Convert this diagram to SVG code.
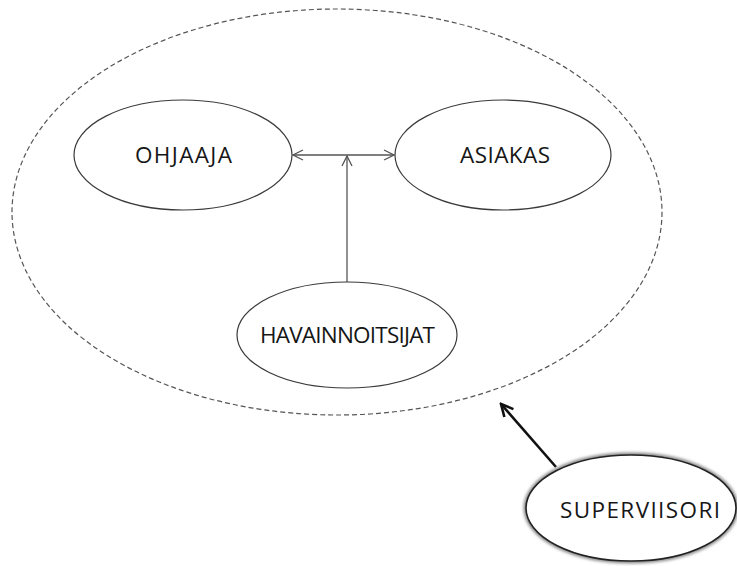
<svg xmlns="http://www.w3.org/2000/svg" width="737" height="566" viewBox="0 0 737 566">
  <defs>
    <style>
      .node { fill: #ffffff; stroke: #3a3a3a; stroke-width: 1.2; }
      .label { font-family: "Open Sans", "Liberation Sans", sans-serif; font-size: 22.5px; fill: #161616; text-anchor: middle; }
      .link { stroke: #555555; stroke-width: 1.3; fill: none; }
    </style>
    <marker id="open" viewBox="0 0 12 12" refX="11" refY="6" markerWidth="12" markerHeight="12" markerUnits="userSpaceOnUse" orient="auto-start-reverse">
      <path d="M1,1 L11,6 L1,11" fill="none" stroke="#555555" stroke-width="1.3"/>
    </marker>
    <marker id="bold" viewBox="0 0 16 16" refX="14" refY="8" markerWidth="16" markerHeight="16" markerUnits="userSpaceOnUse" orient="auto">
      <path d="M2,2 L14,8 L2,14" fill="none" stroke="#111111" stroke-width="2.6" stroke-linejoin="miter"/>
    </marker>
    <filter id="soft" x="-10%" y="-10%" width="120%" height="120%">
      <feGaussianBlur stdDeviation="1.6"/>
    </filter>
  </defs>

  <rect width="737" height="566" fill="#ffffff"/>

  <!-- enclosing group boundary -->
  <ellipse id="group" cx="337" cy="212" rx="325" ry="203" fill="none" stroke="#555555" stroke-width="1.2" stroke-dasharray="5,3"/>

  <g id="connectors">
    <line class="link" x1="293" y1="155" x2="394" y2="155" marker-start="url(#open)" marker-end="url(#open)"/>
    <line class="link" x1="347" y1="282" x2="347" y2="156" marker-end="url(#open)"/>
    <line x1="556" y1="467" x2="501" y2="404" stroke="#111111" stroke-width="2.6" marker-end="url(#bold)"/>
  </g>

  <g id="ohjaaja">
    <ellipse class="node" cx="183" cy="155" rx="109" ry="55"/>
    <text class="label" x="183.5" y="163" textLength="97">OHJAAJA</text>
  </g>

  <g id="asiakas">
    <ellipse class="node" cx="503" cy="155" rx="108" ry="55"/>
    <text class="label" x="505" y="163" textLength="90">ASIAKAS</text>
  </g>

  <g id="havainnoitsijat">
    <ellipse class="node" cx="347" cy="335" rx="110" ry="53"/>
    <text class="label" x="347.5" y="343" textLength="175">HAVAINNOITSIJAT</text>
  </g>

  <g id="superviisori">
    <ellipse cx="631" cy="508" rx="105" ry="53" fill="none" stroke="#888888" stroke-width="5" filter="url(#soft)"/>
    <ellipse cx="631" cy="508" rx="105" ry="53" fill="#ffffff" stroke="#222222" stroke-width="1.6"/>
    <text class="label" x="640" y="518" textLength="160">SUPERVIISORI</text>
  </g>
</svg>
